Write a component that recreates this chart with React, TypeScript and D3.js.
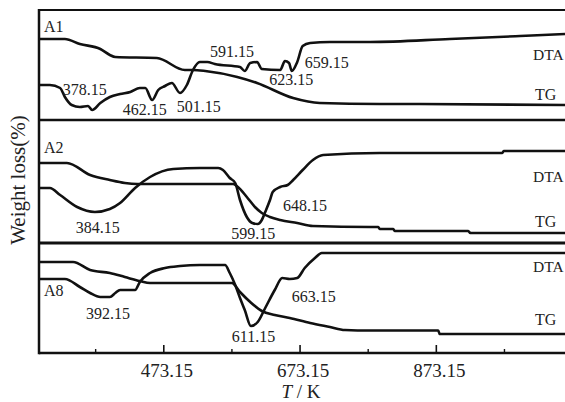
import React from 'react';
import * as d3 from 'd3';

// temperatures in K, signal in arbitrary units (0 = bottom of each panel)
const majorTicks = [473.15, 673.15, 873.15];
const minorTicks = [373.15, 573.15, 773.15, 973.15];

const a1Dta: [number, number][] = [
  [290, 35], [306, 35], [321, 32], [328, 23], [338, 15], [350, 13], [362, 14], [368, 10],
  [380, 17], [394, 23], [409, 26], [424, 28], [438, 32], [446, 32], [456, 20], [465, 30],
  [475, 34], [485, 37], [497, 27], [507, 35], [516, 50], [526, 58], [537, 58], [548, 56],
  [585, 53], [592, 49], [600, 57], [610, 58], [617, 51], [644, 50], [651, 59], [657, 57],
  [661, 49], [669, 58], [677, 74], [688, 77], [717, 78], [776, 78], [893, 81], [996, 84],
  [1062, 86],
];
const a1Tg: [number, number][] = [
  [290, 81], [328, 81], [350, 76], [380, 71], [394, 65], [402, 63], [463, 62], [504, 50],
  [516, 50], [534, 49], [581, 43], [610, 37], [663, 22], [702, 17], [790, 16], [824, 16],
  [1062, 15],
];

const a2Dta: [number, number][] = [
  [290, 55], [306, 55], [321, 48], [346, 36], [372, 31], [394, 34], [409, 40], [431, 55],
  [453, 66], [487, 74], [526, 75], [553, 75], [560, 73], [570, 65], [578, 60], [585, 43],
  [595, 26], [603, 20], [611, 19], [617, 23], [622, 31], [629, 43], [633, 51], [644, 56],
  [655, 58], [663, 63], [677, 73], [692, 83], [707, 88], [790, 90], [970, 90], [972, 92],
  [1062, 92],
];
const a2Tg: [number, number][] = [
  [290, 80], [331, 80], [365, 68], [394, 63], [416, 60], [434, 59], [526, 59], [575, 59],
  [582, 56], [595, 46], [607, 36], [617, 30], [629, 26], [644, 23], [669, 20], [692, 17],
  [776, 16], [788, 16], [790, 14], [810, 14], [812, 12], [920, 12], [923, 10], [1062, 10],
];

const a8Dta: [number, number][] = [
  [290, 74], [328, 74], [350, 66], [365, 60], [380, 56], [394, 56], [402, 60], [409, 63],
  [431, 63], [438, 71], [453, 80], [475, 85], [497, 87], [526, 88], [563, 88], [570, 80],
  [578, 68], [585, 55], [592, 43], [601, 27], [611, 31], [622, 45], [636, 63], [647, 75],
  [658, 74], [669, 75], [680, 85], [695, 95], [705, 100], [1062, 100],
];
const a8Tg: [number, number][] = [
  [290, 91], [340, 91], [365, 83], [394, 80], [416, 76], [438, 72], [453, 70], [573, 70],
  [585, 61], [600, 51], [617, 42], [636, 38], [658, 35], [688, 30], [717, 26], [739, 23],
  [776, 22.5], [876, 22.5], [878, 19], [1062, 19],
];

// peak temperatures written on the curves: [label, T, signal]
const a1Peaks: [string, number, number][] = [
  ['378.15', 325, 25], ['462.15', 413, 5], ['501.15', 492, 8],
  ['591.15', 541, 63], ['623.15', 628, 35], ['659.15', 680, 52],
];
const a2Peaks: [string, number, number][] = [
  ['384.15', 344, 10], ['599.15', 572, 4], ['648.15', 648, 32],
];
const a8Peaks: [string, number, number][] = [
  ['392.15', 359, 34], ['611.15', 573, 11], ['663.15', 661, 51],
];

const W = 565;
const H = 402;
const left = 39;
const axisY = 353;
const font = '"Liberation Serif", "Times New Roman", serif';

const panels = [
  { name: 'A1', top: 10, bottom: 120, dta: a1Dta, tg: a1Tg, peaks: a1Peaks, nameY: 32, dtaY: 60, tgY: 100 },
  { name: 'A2', top: 120, bottom: 243, dta: a2Dta, tg: a2Tg, peaks: a2Peaks, nameY: 153, dtaY: 182, tgY: 227 },
  { name: 'A8', top: 243, bottom: 353, dta: a8Dta, tg: a8Tg, peaks: a8Peaks, nameY: 296, dtaY: 272, tgY: 325 },
];

export default function App() {
  const x = d3.scaleLinear().domain([290, 1062]).range([left, W]);

  return (
    <svg width={W} height={H} style={{ position: 'absolute', left: 0, top: 0, background: '#fff' }}
      fontFamily={font}>
      <rect width={W} height={H} fill="#fff" />

      {panels.map(p => {
        const y = d3.scaleLinear().domain([0, p.bottom - p.top]).range([p.bottom, p.top]);
        const line = d3.line<[number, number]>()
          .x(d => x(d[0]))
          .y(d => y(d[1]))
          .curve(d3.curveMonotoneX);
        return (
          <g key={p.name}>
            <path d={line(p.tg) || ''} fill="none" stroke="#111" strokeWidth={2.6} strokeLinejoin="round" />
            <path d={line(p.dta) || ''} fill="none" stroke="#111" strokeWidth={2.6} strokeLinejoin="round" />
            <text x={44} y={p.nameY} fontSize={16} fill="#222">{p.name}</text>
            <text x={533} y={p.dtaY} fontSize={15.5} fill="#222">DTA</text>
            <text x={535} y={p.tgY} fontSize={16} fill="#222">TG</text>
            {p.peaks.map(([label, t, v]) => (
              <text key={label} x={x(t)} y={y(v)} fontSize={16} fill="#222">{label}</text>
            ))}
          </g>
        );
      })}

      {/* frame */}
      <line x1={left} x2={W} y1={10} y2={10} stroke="#111" strokeWidth={2} />
      <line x1={left} x2={W} y1={120} y2={120} stroke="#111" strokeWidth={2.6} />
      <line x1={left} x2={W} y1={243} y2={243} stroke="#111" strokeWidth={3} />
      <line x1={left} x2={W} y1={axisY} y2={axisY} stroke="#111" strokeWidth={2.5} />
      <line x1={left} x2={left} y1={9} y2={axisY + 1.2} stroke="#111" strokeWidth={2.5} />

      {/* ticks */}
      {majorTicks.map(t => (
        <g key={t}>
          <line x1={x(t)} x2={x(t)} y1={axisY} y2={axisY - 8} stroke="#111" strokeWidth={1.6} />
          <text x={x(t) + 3} y={377} fontSize={19} textAnchor="middle" fill="#222">{t.toFixed(2)}</text>
        </g>
      ))}
      {minorTicks.map(t => (
        <line key={t} x1={x(t)} x2={x(t)} y1={axisY} y2={axisY - 4} stroke="#111" strokeWidth={1.4} />
      ))}

      <text x={301} y={398} fontSize={19} textAnchor="middle" fill="#222">
        <tspan fontStyle="italic">T</tspan> / K
      </text>
      <text transform="translate(25,180) rotate(-90)" fontSize={21} textAnchor="middle" fill="#222">
        Weight loss(%)
      </text>
    </svg>
  );
}
